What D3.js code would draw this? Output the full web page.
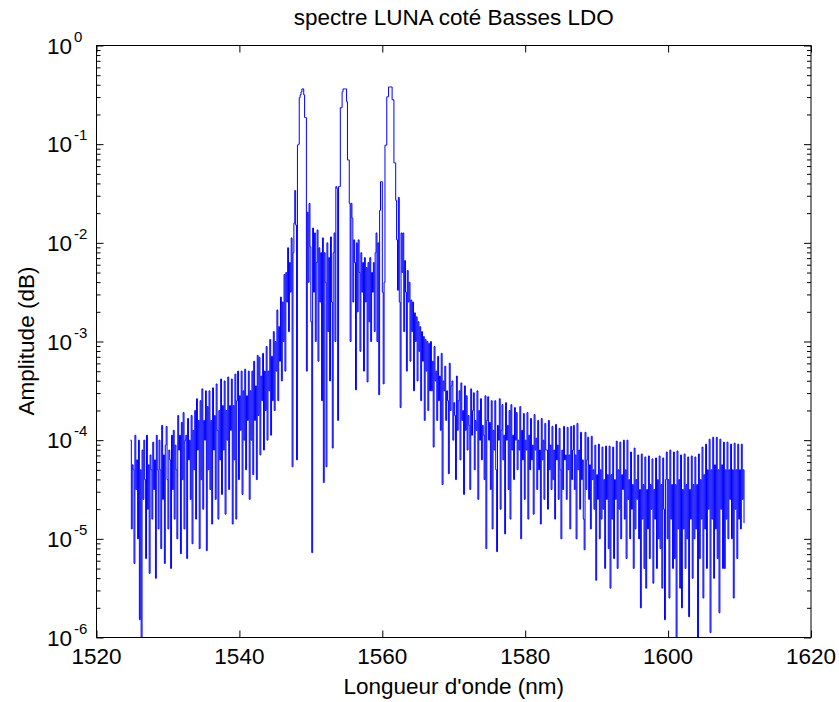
<!DOCTYPE html>
<html>
<head>
<meta charset="utf-8">
<script src="https://cdn.jsdelivr.net/npm/d3@7"></script>
<style>
  body { margin: 0; background: #fff; }
  svg { display: block; }
  text { font-family: "Liberation Sans", Arial, Helvetica, sans-serif; fill: #000; }
</style>
</head>
<body>
<div id="chart"></div>
<script>
// LUNA trace, one sample every 0.125 nm; values are log10(amplitude).
// each row below = 1 nm (8 samples)
var stepNm = 0.125;

var leftWingStart = 1524.75;
var leftWing = [
  -4.0,-4.9,-4.25,-4.3,-5.25,-3.95,-4.5,-4.2,
  -5.0,-4.0,-5.82,-4.3,-6.05,-4.1,-4.6,-4.0,
  -4.4,-5.2,-3.95,-4.7,-4.25,-5.35,-4.15,-4.3,
  -4.8,-4.02,-4.5,-4.2,-5.4,-3.95,-4.3,-4.9,
  -4.0,-4.3,-5.1,-3.85,-4.6,-4.15,-5.25,-4.05,
  -3.86,-4.4,-4.9,-4.1,-4.2,-5.3,-3.95,-4.5,
  -3.9,-4.8,-4.05,-4.3,-5.0,-3.75,-4.1,-3.95,
  -5.15,-3.82,-4.4,-3.72,-4.9,-4.0,-3.95,-5.2,
  -3.78,-4.2,-4.0,-4.6,-3.75,-5.05,-3.9,-4.3,
  -3.7,-4.8,-3.58,-4.1,-3.8,-5.1,-3.6,-4.4,
  -3.48,-4.7,-3.8,-4.0,-3.5,-5.12,-3.66,-4.3,
  -3.5,-4.5,-3.8,-4.85,-3.47,-4.1,-3.75,-4.6,
  -3.43,-3.9,-4.8,-3.7,-4.2,-3.38,-4.55,-3.65,
  -4.1,-3.4,-4.75,-3.7,-4.0,-3.36,-4.5,-3.65,
  -3.9,-3.38,-4.85,-3.65,-4.2,-3.33,-4.8,-3.6,
  -3.3,-4.4,-3.55,-3.9,-3.3,-4.55,-3.5,-4.0,
  -3.28,-4.3,-3.55,-3.8,-3.3,-4.6,-3.5,-4.0,
  -3.3,-4.35,-3.2,-3.8,-3.45,-4.4,-3.14,-3.75,
  -3.16,-4.15,-3.35,-3.6,-3.12,-4.1,-3.3,-3.7,
  -3.05,-4.0,-3.3,-3.5,-2.98,-3.95,-3.15,-3.6,
  -2.9,-3.7,-3.0,-3.3,-2.68,-3.6,-2.85,-3.2,
  -2.55,-3.4,-2.6,-3.0,-2.32,-3.3,-2.3,-2.6
];

var peakRegionStart = 1546.75;
var peakRegion = [
  -2.05,-2.9,-2.2,-2.5,-1.95,-4.27,-2.1,-1.8,
  -1.47,-1.82,-4.2,-1.01,-1.0,-0.53,-0.5,-0.47,
  -0.44,-0.44,-0.5,-0.73,-0.73,-3.3,-1.69,-2.4,
  -1.6,-2.04,-2.8,-5.14,-1.85,-2.5,-1.9,-3.0,
  -2.2,-1.87,-3.2,-2.05,-2.6,-2.1,-3.6,-1.95,
  -4.43,-2.1,-2.4,-4.27,-2.0,-2.9,-2.15,-3.4,
  -1.94,-2.6,-4.08,-2.1,-1.9,-3.0,-1.43,-1.45,
  -3.8,-1.43,-1.43,-0.63,-0.63,-0.47,-0.44,-0.44,
  -0.44,-0.44,-0.57,-1.16,-1.16,-1.6,-3.0,-1.6,
  -1.75,-2.6,-1.97,-2.2,-3.49,-2.0,-2.7,-1.97,
  -2.3,-3.1,-2.1,-2.5,-2.2,-3.3,-2.15,-2.6,
  -2.25,-3.41,-2.2,-2.8,-2.15,-3.0,-2.3,-2.5,
  -2.2,-2.9,-2.1,-1.9,-3.0,-2.0,-3.54,-1.67,
  -1.38,-1.38,-2.5,-3.43,-2.4,-1.01,-1.01,-0.52,
  -0.52,-0.42,-0.42,-0.42,-0.42,-0.55,-0.55,-1.19,
  -1.19,-1.57,-1.97,-2.48,-1.54,-2.6,-3.67,-1.9,
  -2.3,-1.9,-2.9,-2.18,-2.5,-3.3,-2.28,-2.6,
  -2.4,-3.2,-2.58,-2.9,-2.6,-3.5,-2.71,-3.0,
  -2.75,-3.4,-2.8,-3.1,-2.85,-3.6,-2.9,-3.2,
  -2.95,-3.8,-2.98,-3.3,-3.0,-3.7,-3.02,-3.5
];

var rightWingStart = 1566.75;
var rightWing = [
  -3.0,-3.5,-3.2,-4.07,-3.05,-3.4,-3.3,-3.8,
  -3.15,-3.6,-3.35,-3.9,-3.12,-4.45,-3.4,-3.5,
  -3.25,-3.8,-3.5,-3.6,-4.34,-3.22,-3.7,-3.45,
  -3.4,-4.0,-3.62,-3.75,-4.4,-3.35,-3.9,-3.6,
  -3.5,-4.2,-3.42,-3.8,-3.7,-4.55,-3.45,-3.9,
  -3.55,-4.1,-3.75,-3.85,-4.5,-3.48,-3.95,-3.7,
  -3.52,-4.3,-3.8,-3.9,-3.5,-4.6,-3.7,-4.0,
  -3.58,-4.2,-3.85,-3.95,-4.4,-3.55,-5.1,-3.8,
  -3.56,-4.0,-3.82,-4.5,-3.6,-4.9,-3.9,-4.1,
  -3.6,-4.3,-5.13,-3.85,-4.0,-3.58,-4.7,-3.9,
  -3.64,-4.2,-3.95,-4.95,-3.62,-4.0,-3.85,-4.5,
  -3.7,-4.8,-3.64,-4.1,-3.95,-4.4,-3.67,-4.0,
  -3.72,-4.3,-4.0,-4.1,-3.66,-5.0,-3.9,-4.2,
  -3.73,-4.6,-4.0,-4.1,-3.72,-4.8,-3.95,-4.3,
  -3.78,-4.2,-4.05,-4.75,-3.74,-4.1,-3.98,-4.5,
  -3.8,-4.3,-4.1,-4.85,-3.78,-4.2,-4.0,-4.6,
  -3.83,-4.1,-4.1,-4.7,-3.8,-4.3,-4.05,-4.5,
  -3.86,-4.4,-4.1,-4.8,-3.84,-4.2,-4.05,-4.6,
  -3.88,-4.3,-5.0,-4.1,-4.5,-3.86,-4.2,-4.15,
  -4.6,-3.87,-4.3,-4.15,-4.9,-3.86,-4.4,-4.1,
  -3.85,-4.5,-4.15,-5.0,-3.83,-4.3,-4.1,-4.7,
  -3.92,-4.4,-4.2,-4.8,-5.11,-3.92,-4.5,-4.2,
  -3.97,-4.6,-4.25,-4.9,-3.96,-4.4,-4.3,-4.7,
  -4.05,-5.42,-4.35,-4.6,-4.04,-5.0,-4.3,-4.8,
  -4.07,-4.7,-4.4,-5.3,-4.06,-4.6,-4.35,-5.1,
  -4.06,-5.5,-4.35,-4.8,-4.07,-5.2,-4.4,-4.6,
  -4.01,-5.3,-4.3,-4.7,-4.02,-5.0,-4.35,-4.5,
  -4.0,-4.8,-4.3,-5.2,-4.0,-4.6,-4.4,-5.0,
  -4.12,-4.7,-4.45,-5.3,-4.08,-4.9,-4.4,-4.6,
  -4.15,-5.0,-4.5,-5.7,-4.14,-4.8,-4.45,-5.3,
  -4.17,-5.5,-4.5,-4.9,-4.16,-5.2,-4.45,-4.7,
  -4.19,-5.45,-4.5,-4.8,-4.18,-5.3,-4.4,-5.0,
  -4.16,-5.1,-4.45,-5.5,-4.18,-4.7,-5.82,-4.4,
  -4.12,-5.0,-4.4,-5.6,-4.1,-4.8,-4.45,-5.3,
  -4.12,-5.2,-4.45,-6.05,-4.11,-4.9,-4.4,-5.5,
  -4.15,-5.7,-4.5,-4.9,-4.14,-5.3,-4.45,-5.0,
  -4.17,-5.79,-4.5,-4.8,-4.16,-5.4,-4.45,-5.0,
  -4.17,-4.9,-4.45,-6.05,-4.14,-5.2,-4.4,-4.8,
  -4.07,-5.6,-4.35,-4.9,-4.04,-5.3,-4.3,-4.7,
  -3.99,-5.95,-4.3,-4.8,-3.97,-5.4,-4.25,-4.9,
  -3.97,-5.2,-4.3,-5.75,-3.99,-4.7,-4.25,-5.3,
  -4.02,-5.3,-4.3,-4.8,-4.02,-5.0,-4.3,-4.6,
  -4.04,-5.0,-4.3,-5.6,-4.03,-4.7,-4.3,-5.2,
  -4.04,-4.8,-4.3,-4.9,-4.04,-4.6,-4.3,-4.84
];

var xTicks = [1520, 1540, 1560, 1580, 1600, 1620];
var yDecades = [0, -1, -2, -3, -4, -5, -6];

var titleText = "spectre LUNA coté Basses LDO";
var xLabel = "Longueur d'onde (nm)";
var yLabel = "Amplitude (dB)";


//Build the point list
var data = [];
function addSegment(start, vals) {
    for (var i = 0; i < vals.length; i++) {
        data.push({x: start + i*stepNm, y: Math.pow(10, vals[i])});
    }
}
addSegment(leftWingStart, leftWing);
addSegment(peakRegionStart, peakRegion);
addSegment(rightWingStart, rightWing);


//Frame
var W = 839, H = 702;
var box = {left: 96.5, right: 811, top: 45.5, bottom: 637.5};
var fontSize = "22.5px";

var svg = d3.select("#chart").append("svg")
    .attr("width", W)
    .attr("height", H);

var x_scale = d3.scaleLinear()
    .domain([1520, 1620])
    .range([box.left, box.right]);

var y_scale = d3.scaleLog()
    .domain([1e-6, 1])
    .range([box.bottom, box.top]);

var yMajor = yDecades.map(function(k) {return Math.pow(10, k);});
var yMinor = [];
for (var k = -6; k < 0; k++) {
    for (var m = 2; m <= 9; m++) yMinor.push(m * Math.pow(10, k));
}


//Trace (drawn as stairs, like the original)
svg.append("defs").append("clipPath").attr("id", "clip")
    .append("rect")
    .attr("x", box.left).attr("y", box.top)
    .attr("width", box.right - box.left).attr("height", box.bottom - box.top);

var line = d3.line()
    .x(function(d) {return x_scale(d.x);})
    .y(function(d) {return y_scale(d.y);})
    .curve(d3.curveStepAfter);

svg.append("path")
    .attr("clip-path", "url(#clip)")
    .attr("d", line(data))
    .attr("fill", "none")
    .attr("stroke", "#0000ff")
    .attr("stroke-width", 1);


//Axes (MATLAB style: ticks inside, on all four sides)
function styleAxis(g) {
    g.select(".domain").remove();
    g.selectAll(".tick line").attr("stroke", "#000");
}

svg.append("g")
    .attr("transform", "translate(0," + box.bottom + ")")
    .call(d3.axisBottom(x_scale).tickValues(xTicks).tickSize(-7).tickFormat(""))
    .call(styleAxis);

svg.append("g")
    .attr("transform", "translate(0," + box.top + ")")
    .call(d3.axisTop(x_scale).tickValues(xTicks).tickSize(-7).tickFormat(""))
    .call(styleAxis);

[["left", box.left, d3.axisLeft], ["right", box.right, d3.axisRight]].forEach(function(a) {
    svg.append("g")
        .attr("transform", "translate(" + a[1] + ",0)")
        .call(a[2](y_scale).tickValues(yMajor).tickSize(-7).tickFormat(""))
        .call(styleAxis);
    svg.append("g")
        .attr("transform", "translate(" + a[1] + ",0)")
        .call(a[2](y_scale).tickValues(yMinor).tickSize(-4).tickFormat(""))
        .call(styleAxis);
});

svg.append("rect")
    .attr("x", box.left).attr("y", box.top)
    .attr("width", box.right - box.left).attr("height", box.bottom - box.top)
    .attr("fill", "none")
    .attr("stroke", "#000")
    .attr("stroke-width", 1);


//Tick labels
svg.append("g").selectAll("text")
    .data(xTicks)
    .enter().append("text")
    .attr("x", function(d) {return x_scale(d);})
    .attr("y", 664)
    .attr("text-anchor", "middle")
    .style("font-size", fontSize)
    .text(function(d) {return d;});

var yl = svg.append("g").selectAll("g")
    .data(yDecades)
    .enter().append("g");

yl.append("text")
    .attr("x", 72)
    .attr("y", function(k) {return y_scale(Math.pow(10, k)) + 8;})
    .attr("text-anchor", "end")
    .style("font-size", fontSize)
    .text("10");

yl.append("text")
    .attr("x", 74)
    .attr("y", function(k) {return y_scale(Math.pow(10, k)) - 4;})
    .style("font-size", "15px")
    .text(function(k) {return k === 0 ? "0" : "-" + (-k);});


//Title and axis labels
svg.append("text")
    .attr("x", (box.left + box.right)/2)
    .attr("y", 25)
    .attr("text-anchor", "middle")
    .style("font-size", fontSize)
    .text(titleText);

svg.append("text")
    .attr("x", (box.left + box.right)/2)
    .attr("y", 694)
    .attr("text-anchor", "middle")
    .style("font-size", fontSize)
    .text(xLabel);

svg.append("text")
    .attr("transform", "translate(34," + 341 + ") rotate(-90)")
    .attr("text-anchor", "middle")
    .style("font-size", fontSize)
    .text(yLabel);
</script>
</body>
</html>
